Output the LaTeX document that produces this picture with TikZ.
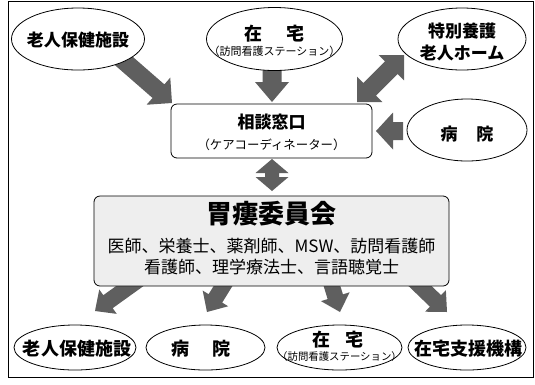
\documentclass[tikz,border=0pt]{standalone}
\usepackage{fontspec}
\setmainfont{Noto Sans CJK JP}
\usetikzlibrary{calc,shapes.geometric,backgrounds}
\definecolor{arrgray}{RGB}{95,95,95}
\definecolor{boxgray}{RGB}{238,238,238}
% #1 tail, #2 tip, #3 half shaft, #4 half head, #5 head length
\newcommand\blockarr[5]{%
  \coordinate (bH) at ($(#2)!#5!(#1)$);
  \fill[arrgray] ($(#1)!#3!90:(#2)$) -- ($(bH)!#3!90:(#2)$) -- ($(bH)!#4!90:(#2)$) -- (#2)
    -- ($(bH)!#4!-90:(#2)$) -- ($(bH)!#3!-90:(#2)$) -- ($(#1)!#3!-90:(#2)$) -- cycle;}
\newcommand\dblarr[5]{%
  \coordinate (bHa) at ($(#2)!#5!(#1)$);
  \coordinate (bHb) at ($(#1)!#5!(#2)$);
  \fill[arrgray] (#1) -- ($(bHb)!#4!90:(#2)$) -- ($(bHb)!#3!90:(#2)$) -- ($(bHa)!#3!90:(#2)$)
    -- ($(bHa)!#4!90:(#2)$) -- (#2) -- ($(bHa)!#4!-90:(#2)$) -- ($(bHa)!#3!-90:(#2)$)
    -- ($(bHb)!#3!-90:(#2)$) -- ($(bHb)!#4!-90:(#2)$) -- cycle;}
\begin{document}
\begin{tikzpicture}[x=1pt,y=-1pt,
  ell/.style={ellipse,draw,fill=white,line width=0.8pt,inner sep=0pt},
  rbox/.style={draw,rounded corners=6pt,line width=0.8pt,inner sep=0pt},
  lab/.style={inner sep=0pt,align=center,font=\fontsize{17}{22}\selectfont\bfseries},
  blab/.style={inner sep=0pt,font=\fontsize{18}{20}\selectfont\bfseries},
  mem/.style={inner sep=0pt,font=\fontsize{17}{20}\selectfont}]
\useasboundingbox (0,0) rectangle (535,384);
\draw[line width=0.8pt] (8.5,1) rectangle (533.5,377);
% top ellipses
\node[ell,minimum width=133pt,minimum height=62pt] (e1) at (78,39) {};
\node[lab] (e1t) at (78,40) {老人保健施設};
\node[ell,minimum width=136pt,minimum height=63pt] (e2) at (274.5,39) {};
\node[lab,font=\fontsize{18}{22}\selectfont\bfseries] (e2t) at (274.5,34) {在\hspace{24pt}宅};
\node[inner sep=0pt,font=\fontsize{11}{12}\selectfont] (e2s) at (274.5,51) {（訪問看護ステーション）};
\node[ell,minimum width=128pt,minimum height=62pt] (e3) at (462,39) {};
\node[lab] (e3t) at (462,42) {特別養護\\老人ホーム};
\node[ell,minimum width=120pt,minimum height=62pt] (e4) at (467,130) {};
\node[lab] (e4t) at (467,134) {病\hspace{19pt}院};
% consultation box
\node[rbox,fill=white,minimum width=201pt,minimum height=54pt] (c) at (271.5,131) {};
\node[inner sep=0pt,font=\fontsize{17}{20}\selectfont\bfseries] (ct) at (271.5,122) {相談窓口};
\node[inner sep=0pt,font=\fontsize{12.4}{14}\selectfont] (cs) at (271.5,145) {（ケアコーディネーター）};
% committee box
\node[rbox,fill=boxgray,minimum width=355pt,minimum height=90pt] (g) at (271.5,241) {};
\node[inner sep=0pt,font=\fontsize{26}{30}\selectfont\bfseries] (gt) at (271.5,214) {胃瘻委員会};
\node[mem] (g1) at (271.5,246) {医師、栄養士、薬剤師、MSW、訪問看護師};
\node[mem] (g2) at (271.5,267) {看護師、理学療法士、言語聴覚士};
% bottom ellipses
\node[ell,minimum width=122pt,minimum height=45pt] (b1) at (75,347.5) {};
\node[blab] (b1t) at (77,349) {老人保健施設};
\node[ell,minimum width=119pt,minimum height=45pt] (b2) at (205.5,347.5) {};
\node[blab] (b2t) at (201,349) {病\hspace{23pt}院};
\node[ell,minimum width=125pt,minimum height=45pt] (b3) at (339.5,347.5) {};
\node[blab] (b3t) at (338,340) {在\hspace{16pt}宅};
\node[inner sep=0pt,font=\fontsize{10.4}{11}\selectfont] (b3s) at (339.5,357) {（訪問看護ステーション）};
\node[ell,minimum width=118pt,minimum height=45pt] (b4) at (467,347.5) {};
\node[blab] (b4t) at (468,349) {在宅支援機構};
% connector ends
\coordinate (a1s) at (115.5,53.7); \coordinate (a1e) at (172,103);
\coordinate (a2s) at (272,60);     \coordinate (a2e) at (272,102);
\coordinate (a3s) at (357,102);    \coordinate (a3e) at (404,55);
\coordinate (a4s) at (403,131);    \coordinate (a4e) at (376,131);
\coordinate (dvs) at (272,159);    \coordinate (dve) at (272,191);
\coordinate (q1s) at (141,278);    \coordinate (q1e) at (95,311);
\coordinate (q2s) at (228,278);    \coordinate (q2e) at (207,312);
\coordinate (q3s) at (329.5,278);  \coordinate (q3e) at (340,312);
\coordinate (q4s) at (411.7,278);  \coordinate (q4e) at (447,312);
\begin{pgfonlayer}{background}
\blockarr{a1s}{a1e}{9pt}{18pt}{18pt}
\blockarr{a2s}{a2e}{9.5pt}{17pt}{20pt}
\dblarr{a3s}{a3e}{9pt}{18pt}{18pt}
\blockarr{a4s}{a4e}{9pt}{18.5pt}{17pt}
\dblarr{dvs}{dve}{7pt}{16.5pt}{14pt}
\blockarr{q1s}{q1e}{8pt}{15pt}{16pt}
\blockarr{q2s}{q2e}{8pt}{15pt}{16pt}
\blockarr{q3s}{q3e}{8pt}{15pt}{16pt}
\blockarr{q4s}{q4e}{8pt}{15pt}{16pt}
\end{pgfonlayer}
\end{tikzpicture}
\end{document}
